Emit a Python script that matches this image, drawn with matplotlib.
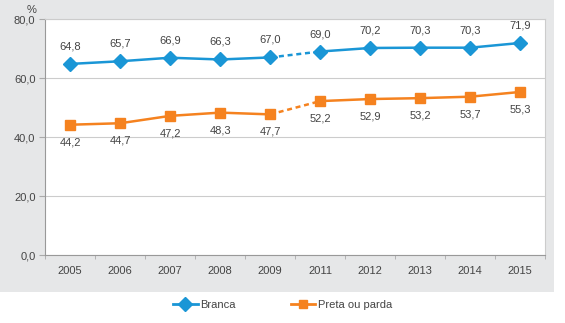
import numpy as np
import matplotlib.pyplot as plt
from matplotlib.patches import Rectangle
from matplotlib.lines import Line2D

plt.rcParams['font.family'] = ['Liberation Sans', 'DejaVu Sans']

anos = ['2005', '2006', '2007', '2008', '2009', '2011', '2012', '2013', '2014', '2015']
branca = [64.8, 65.7, 66.9, 66.3, 67.0, 69.0, 70.2, 70.3, 70.3, 71.9]
preta = [44.2, 44.7, 47.2, 48.3, 47.7, 52.2, 52.9, 53.2, 53.7, 55.3]
y_ticks = [0, 20, 40, 60, 80]

azul = '#1a96d6'
laranja = '#f5821f'
txt = '#444444'

fig = plt.figure(figsize=(5.65, 3.23), dpi=100)
fig.patch.set_facecolor('white')
# grey panel behind the chart
fig.add_artist(Rectangle((0, 0.097), 0.98, 0.91, transform=fig.transFigure,
                         facecolor='#e6e7e8', edgecolor='none', zorder=0))

ax = fig.add_axes([0.08, 0.21, 0.885, 0.731])
ax.set_facecolor('white')
x = np.arange(len(anos))

def serie(vals, cor, marker, ms):
    # solid parts, dashed gap 2009 -> 2011
    ax.plot(x[:5], vals[:5], color=cor, lw=1.8, marker=marker, ms=ms, zorder=3)
    ax.plot(x[5:], vals[5:], color=cor, lw=1.8, marker=marker, ms=ms, zorder=3)
    ax.plot(x[4:6], vals[4:6], color=cor, lw=1.8, ls=(0, (2, 1.5)), zorder=2)

serie(branca, azul, 'D', 7.5)
serie(preta, laranja, 's', 6.5)

for i in range(len(anos)):
    ax.annotate(f'{branca[i]:.1f}'.replace('.', ','), (x[i], branca[i]), xytext=(0, 9),
                textcoords='offset points', ha='center', va='bottom', fontsize=8, color=txt)
    ax.annotate(f'{preta[i]:.1f}'.replace('.', ','), (x[i], preta[i]), xytext=(0, -9),
                textcoords='offset points', ha='center', va='top', fontsize=8, color=txt)

ax.set_xlim(-0.5, len(anos) - 0.5)
ax.set_ylim(0, 80)
ax.set_yticks(y_ticks)
ax.set_yticklabels([f'{v:.1f}'.replace('.', ',') for v in y_ticks], fontsize=8, color=txt)
ax.set_xticks(x)
ax.set_xticklabels(anos, fontsize=8, color=txt)
ax.tick_params(axis='x', length=0, pad=8)
ax.set_xticks(np.arange(-0.5, len(anos), 1), minor=True)
ax.tick_params(axis='x', which='minor', length=3, color='#aaaaaa', direction='out')
ax.tick_params(axis='y', length=4, color='#aaaaaa', pad=3)
ax.grid(axis='y', color='#cccccc', lw=0.8)
ax.set_axisbelow(True)
for s in ax.spines.values():
    s.set_color('#cccccc')
ax.spines['bottom'].set_color('#999999')
ax.spines['left'].set_color('#999999')

fig.text(0.048, 0.968, '%', fontsize=8, color=txt, va='center')

handles = [Line2D([], [], color=azul, lw=2, marker='D', ms=7),
           Line2D([], [], color=laranja, lw=2, marker='s', ms=6)]
fig.legend(handles, ['Branca', 'Preta ou parda'], loc='center', bbox_to_anchor=(0.5, 0.055),
           ncol=2, frameon=False, fontsize=8, handlelength=2.2, handletextpad=0.2,
           columnspacing=5, labelcolor=txt)

fig.savefig('out.png', dpi=100)
